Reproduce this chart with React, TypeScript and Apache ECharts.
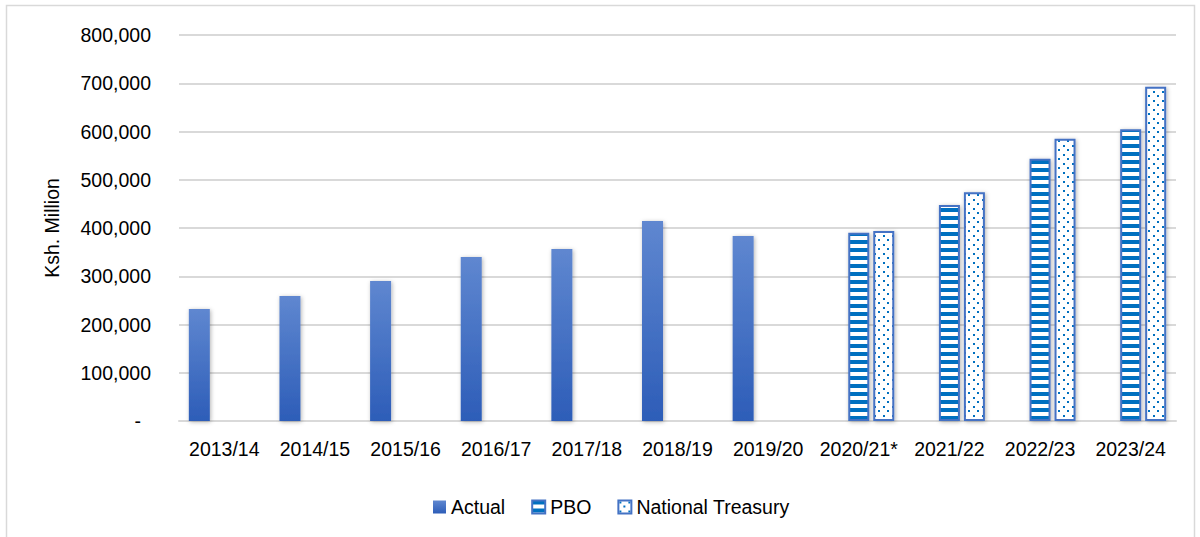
import React, { useEffect, useRef } from "react";
import * as echarts from "echarts";

const categories = [
  "2013/14", "2014/15", "2015/16", "2016/17", "2017/18", "2018/19",
  "2019/20", "2020/21*", "2021/22", "2022/23", "2023/24",
];
const actualValues = [232000, 259000, 290000, 340000, 356500, 414500, 383500, null, null, null, null];
const pboValues = [null, null, null, null, null, null, null, 390000, 447500, 543500, 604500];
const treasuryValues = [null, null, null, null, null, null, null, 394000, 474000, 585000, 693000];
const yTicks = [0, 100000, 200000, 300000, 400000, 500000, 600000, 700000, 800000];

function makeStripes(): HTMLCanvasElement {
  const c = document.createElement("canvas");
  c.width = 8;
  c.height = 8;
  const ctx = c.getContext("2d")!;
  ctx.fillStyle = "#ffffff";
  ctx.fillRect(0, 0, 8, 8);
  ctx.fillStyle = "#0070C0";
  ctx.fillRect(0, 0, 8, 4);
  return c;
}

function makeDots(): HTMLCanvasElement {
  const c = document.createElement("canvas");
  c.width = 9;
  c.height = 9;
  const ctx = c.getContext("2d")!;
  ctx.fillStyle = "#ffffff";
  ctx.fillRect(0, 0, 9, 9);
  ctx.fillStyle = "#0070C0";
  ctx.fillRect(1, 1, 2, 2);
  ctx.fillRect(5, 5, 2, 2);
  return c;
}

export default function App() {
  const ref = useRef<HTMLDivElement>(null);
  useEffect(() => {
    document.body.style.margin = "0";
    const chart = echarts.init(ref.current!, null, { renderer: "svg" });
    const font = "Arial, 'Liberation Sans', sans-serif";
    const fs = 19.5;
    const shadow = {
      shadowBlur: 4,
      shadowColor: "rgba(0,0,0,0.3)",
      shadowOffsetX: 1,
      shadowOffsetY: 1,
    };
    chart.setOption({
      animation: false,
      textStyle: { fontFamily: font },
      graphic: [
        {
          type: "rect",
          shape: { x: 6.5, y: 5.5, width: 1188, height: 545 },
          style: { fill: "none", stroke: "#d9d9d9", lineWidth: 1.5 },
          silent: true,
        },
      ],
      grid: { left: 179, right: 24, top: 35, bottom: 116, containLabel: false },
      legend: {
        left: 428,
        top: 492,
        itemWidth: 13,
        itemHeight: 13,
        itemGap: 26,
        icon: "rect",
        textStyle: { fontSize: fs, color: "#000", fontFamily: font },
        data: ["Actual", "PBO", "National Treasury"],
      },
      xAxis: {
        type: "category",
        data: categories,
        axisLine: { show: true, lineStyle: { color: "#d9d9d9", width: 2 } },
        axisTick: { show: false },
        axisLabel: { fontSize: fs, color: "#000", margin: 18, fontFamily: font, interval: 0 },
      },
      yAxis: {
        type: "value",
        min: yTicks[0],
        max: yTicks[yTicks.length - 1],
        interval: yTicks[1] - yTicks[0],
        name: "Ksh. Million",
        nameLocation: "middle",
        nameGap: 117,
        nameTextStyle: { fontSize: fs, color: "#000", fontFamily: font },
        axisLine: { show: false },
        axisTick: { show: false },
        splitLine: { lineStyle: { color: "#d9d9d9", width: 2 } },
        axisLabel: {
          fontSize: fs,
          color: "#000",
          margin: 28,
          fontFamily: font,
          formatter: (v: number) => (v === 0 ? "{d|-}" : v.toLocaleString("en-US")),
          rich: {
            d: { fontSize: fs, color: "#000", fontFamily: font, padding: [0, 10, 0, 0] },
          },
        },
      },
      series: [
        {
          name: "Actual",
          type: "bar",
          data: actualValues,
          barWidth: 21,
          barGap: "19%",
          itemStyle: {
            color: new echarts.graphic.LinearGradient(0, 0, 0, 1, [
              { offset: 0, color: "#5F87D0" },
              { offset: 1, color: "#2D5DB8" },
            ]),
            ...shadow,
          },
        },
        {
          name: "PBO",
          type: "bar",
          data: pboValues,
          barWidth: 21,
          barGap: "19%",
          itemStyle: {
            color: { image: makeStripes(), repeat: "repeat" },
            borderColor: "#4472C4",
            borderWidth: 2,
            ...shadow,
          },
        },
        {
          name: "National Treasury",
          type: "bar",
          data: treasuryValues,
          barWidth: 21,
          barGap: "19%",
          itemStyle: {
            color: { image: makeDots(), repeat: "repeat" },
            borderColor: "#4472C4",
            borderWidth: 2,
            ...shadow,
          },
        },
      ],
    });
    return () => chart.dispose();
  }, []);
  return <div ref={ref} style={{ width: 1200, height: 537 }} />;
}
